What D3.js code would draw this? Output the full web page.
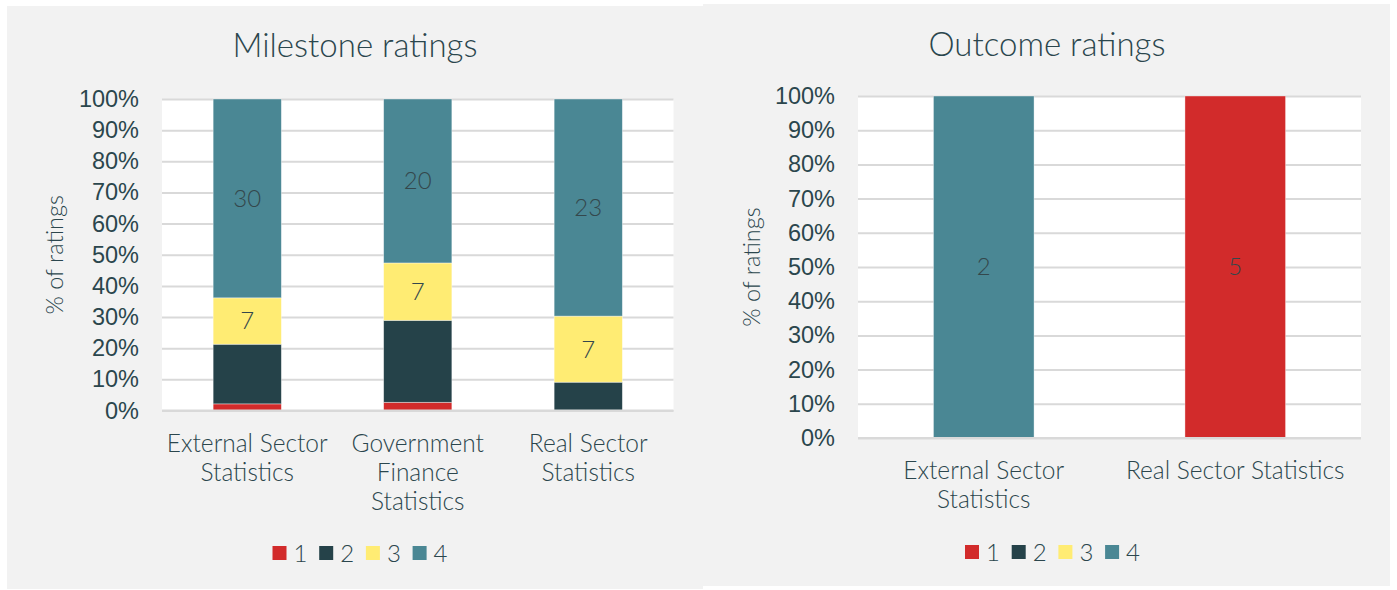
<!DOCTYPE html>
<html>
<head>
<meta charset="utf-8">
<title>Milestone and outcome ratings</title>
<style>
  body { margin: 0; background: #fff; }
  svg { display: block; font-family: Lato, "Noto Sans", sans-serif; font-weight: 300; }
  .grid line { stroke: #d9d9d9; stroke-width: 2; }
  .grid .domain { display: none; }
  .ticks text { fill: #2b464d; font-size: 23.5px; }
  .ticks .domain, .ticks line { display: none; }
</style>
</head>
<body>
<div id="viz"></div>
<script src="https://cdn.jsdelivr.net/npm/d3@7"></script>
<script>

  // ---- data ----
  var ratingKeys = ["1", "2", "3", "4"];
  var ratingColors = ["#d22b2b", "#254249", "#ffec73", "#4a8794"];
  var yTicks = [0, 0.1, 0.2, 0.3, 0.4, 0.5, 0.6, 0.7, 0.8, 0.9, 1];

  // milestone counts per rating
  var milestoneCats = ["External Sector Statistics", "Government Finance Statistics", "Real Sector Statistics"];
  var milestoneLines = [["External Sector", "Statistics"], ["Government", "Finance", "Statistics"], ["Real Sector", "Statistics"]];
  var milestone1 = [1, 1, 0];
  var milestone2 = [9, 10, 3];
  var milestone3 = [7, 7, 7];
  var milestone4 = [30, 20, 23];

  // outcome counts per rating
  var outcomeCats = ["External Sector Statistics", "Real Sector Statistics"];
  var outcomeLines = [["External Sector", "Statistics"], ["Real Sector Statistics"]];
  var outcome1 = [0, 5];
  var outcome2 = [0, 0];
  var outcome3 = [0, 0];
  var outcome4 = [2, 0];

  var textColor = "#2b464d";

  var svg = d3.select("#viz").append("svg")
      .attr("width", 1397)
      .attr("height", 590);

  // panel backgrounds
  svg.append("rect").attr("x", 7).attr("y", 6).attr("width", 696).attr("height", 583).attr("fill", "#f2f2f2");
  svg.append("rect").attr("x", 703).attr("y", 4).attr("width", 687).attr("height", 582).attr("fill", "#f2f2f2");

  function drawChart(opt) {
    var rows = opt.cats.map(function(c, i) {
      var r = { cat: c };
      opt.series.forEach(function(s, j) { r[ratingKeys[j]] = s[i]; });
      return r;
    });

    var stacked = d3.stack().keys(ratingKeys).offset(d3.stackOffsetExpand)(rows);

    var x = d3.scaleBand().domain(opt.cats).range([opt.left, opt.right]).paddingInner(0.6).paddingOuter(0.3);
    var y = d3.scaleLinear().domain([0, 1]).range([opt.bottom, opt.top]);
    var color = d3.scaleOrdinal().domain(ratingKeys).range(ratingColors);

    var g = svg.append("g");

    // plot area
    g.append("rect")
        .attr("x", opt.left).attr("y", opt.top)
        .attr("width", opt.right - opt.left).attr("height", opt.bottom - opt.top)
        .attr("fill", "#fff");

    g.append("g")
        .attr("class", "grid")
        .attr("transform", "translate(" + opt.left + ",0)")
        .call(d3.axisLeft(y).tickValues(yTicks).tickSize(-(opt.right - opt.left)).tickFormat(""));

    g.append("g")
        .attr("class", "ticks")
        .attr("transform", "translate(" + (opt.left - 23) + ",0)")
        .call(d3.axisLeft(y).tickValues(yTicks).tickSize(0).tickPadding(0).tickFormat(d3.format(".0%")));

    // bars
    var layer = g.selectAll(".layer")
        .data(stacked)
      .enter().append("g")
        .attr("fill", function(d) { return color(d.key); });

    layer.selectAll("rect")
        .data(function(d) { return d; })
      .enter().append("rect")
        .attr("x", function(d) { return x(d.data.cat); })
        .attr("width", x.bandwidth())
        .attr("y", function(d) { return y(d[1]); })
        .attr("height", function(d) { return y(d[0]) - y(d[1]); })
        .attr("stroke", "#fff")
        .attr("stroke-opacity", 0.5)
        .attr("stroke-width", 0.75);

    // value labels (series 2 is not shown, tiny segments hidden)
    stacked.forEach(function(s) {
      if (s.key === "2") return;
      g.selectAll(null)
          .data(s.filter(function(d) { return d[1] - d[0] > 0.08; }))
        .enter().append("text")
          .attr("x", function(d) { return x(d.data.cat) + x.bandwidth() / 2; })
          .attr("y", function(d) { return y((d[0] + d[1]) / 2); })
          .attr("dy", "0.35em")
          .attr("text-anchor", "middle")
          .attr("fill", "#34474c")
          .style("font-size", "24px")
          .text(function(d) { return d.data[s.key]; });
    });

    // bottom gridline over bars
    g.append("line")
        .attr("x1", opt.left).attr("x2", opt.right)
        .attr("y1", y(0)).attr("y2", y(0))
        .attr("stroke", "#d9d9d9").attr("stroke-width", 2);

    // category labels
    opt.cats.forEach(function(c, i) {
      var t = g.append("text")
          .attr("text-anchor", "middle")
          .attr("fill", textColor)
          .style("font-size", "24.5px");
      opt.lines[i].forEach(function(line, k) {
        t.append("tspan")
            .attr("x", x(c) + x.bandwidth() / 2)
            .attr("y", opt.bottom + 41 + k * 29)
            .text(line);
      });
    });

    // title
    g.append("text")
        .attr("x", opt.titleX).attr("y", opt.titleY)
        .attr("text-anchor", "middle")
        .attr("fill", textColor)
        .style("font-size", "33px")
        .text(opt.title);

    // y axis title
    g.append("text")
        .attr("transform", "translate(" + opt.yTitleX + "," + ((opt.top + opt.bottom) / 2) + ") rotate(-90)")
        .attr("dy", "0.35em")
        .attr("text-anchor", "middle")
        .attr("fill", textColor)
        .style("font-size", "23.5px")
        .text("% of ratings");

    // legend
    var legend = g.selectAll(".legend")
        .data(ratingKeys)
      .enter().append("g")
        .attr("transform", function(d, i) { return "translate(" + (opt.legendX + i * 46.7) + "," + opt.legendY + ")"; });

    legend.append("rect")
        .attr("width", 14).attr("height", 14)
        .attr("fill", function(d) { return color(d); });

    legend.append("text")
        .attr("x", 21).attr("y", 7)
        .attr("dy", "0.36em")
        .attr("fill", textColor)
        .style("font-size", "24px")
        .text(function(d) { return d; });
  }

  drawChart({
    cats: milestoneCats, lines: milestoneLines,
    series: [milestone1, milestone2, milestone3, milestone4],
    left: 162, right: 673.5, top: 99, bottom: 410.5,
    title: "Milestone ratings", titleX: 355, titleY: 57,
    yTitleX: 55, legendX: 272.5, legendY: 546
  });

  drawChart({
    cats: outcomeCats, lines: outcomeLines,
    series: [outcome1, outcome2, outcome3, outcome4],
    left: 858, right: 1361, top: 96, bottom: 438,
    title: "Outcome ratings", titleX: 1047, titleY: 56,
    yTitleX: 752, legendX: 965, legendY: 545
  });

</script>
</body>
</html>
